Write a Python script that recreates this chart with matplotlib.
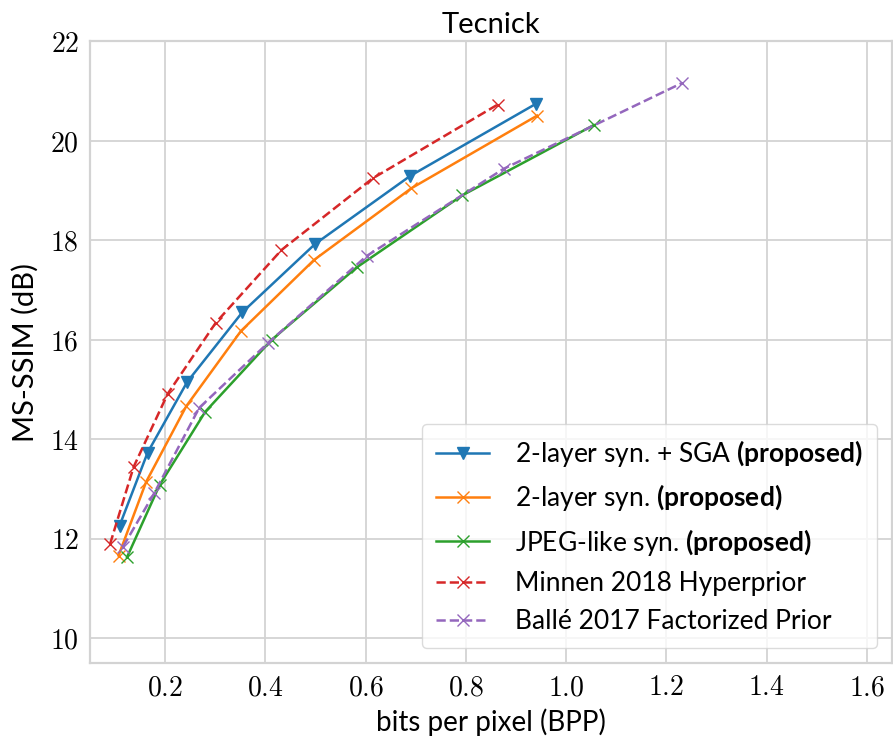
#Rate-distortion curves (MS-SSIM) on Tecnick
import matplotlib.pyplot as plt

plt.rcParams['font.family'] = ['Lato', 'DejaVu Sans']
plt.rcParams['mathtext.fontset'] = 'custom'
plt.rcParams['mathtext.rm'] = 'Lato'
plt.rcParams['mathtext.bf'] = 'Lato:bold'

# data
sga_bpp = [0.109, 0.165, 0.244, 0.354, 0.499, 0.689, 0.940]
sga_db = [12.26, 13.73, 15.15, 16.55, 17.92, 19.29, 20.74]

two_bpp = [0.107, 0.162, 0.242, 0.351, 0.497, 0.691, 0.942]
two_db = [11.66, 13.14, 14.66, 16.17, 17.60, 19.04, 20.50]

jpeg_bpp = [0.124, 0.189, 0.280, 0.413, 0.582, 0.793, 1.055]
jpeg_db = [11.63, 13.08, 14.55, 16.00, 17.45, 18.90, 20.31]

minnen_bpp = [0.090, 0.137, 0.205, 0.301, 0.432, 0.614, 0.863]
minnen_db = [11.89, 13.44, 14.91, 16.34, 17.80, 19.24, 20.72]

balle_bpp = [0.116, 0.178, 0.268, 0.406, 0.602, 0.875, 1.232]
balle_db = [11.84, 12.91, 14.63, 15.94, 17.68, 19.43, 21.16]

xticks = [0.2, 0.4, 0.6, 0.8, 1.0, 1.2, 1.4, 1.6]
yticks = [10, 12, 14, 16, 18, 20, 22]

fig = plt.figure(figsize=(8.93, 7.44), dpi=100)
ax = fig.add_axes([90/893, 1-663/744, 802/893, 622/744])

lw = 1.8
ax.plot(sga_bpp, sga_db, color='#1f77b4', marker='v', markersize=8, linewidth=lw,
        label=r'2-layer syn. $+$ SGA $\mathbf{(proposed)}$')
ax.plot(two_bpp, two_db, color='#ff7f0e', marker='x', markersize=8, linewidth=lw,
        label=r'2-layer syn. $\mathbf{(proposed)}$')
ax.plot(jpeg_bpp, jpeg_db, color='#2ca02c', marker='x', markersize=8, linewidth=lw,
        label=r'JPEG-like syn. $\mathbf{(proposed)}$')
ax.plot(minnen_bpp, minnen_db, color='#d62728', marker='x', markersize=8, linewidth=lw,
        linestyle='--', label='Minnen 2018 Hyperprior')
ax.plot(balle_bpp, balle_db, color='#9467bd', marker='x', markersize=8, linewidth=lw,
        linestyle='--', label='Ballé 2017 Factorized Prior')

ax.set_xlim(0.05, 1.65)
ax.set_ylim(9.5, 22)
ax.set_xticks(xticks, labels=[f'${t:.1f}$' for t in xticks])
ax.set_yticks(yticks, labels=[f'${t}$' for t in yticks])
for lab in ax.get_xticklabels() + ax.get_yticklabels():
    lab.set_math_fontfamily('cm')
    lab.set_fontsize(20)
ax.tick_params(length=0, pad=8)

ax.grid(True, color='#d3d3d3', linewidth=1.3)
ax.set_axisbelow(True)
for s in ax.spines.values():
    s.set_color('#d3d3d3')
    s.set_linewidth(1.6)

ax.set_title('Tecnick', fontsize=21, pad=6)
ax.set_xlabel('bits per pixel (BPP)', fontsize=20, labelpad=6)
ax.set_ylabel('MS-SSIM (dB)', fontsize=21, labelpad=8)

leg = ax.legend(loc='lower right', fontsize=19, frameon=True, fancybox=True,
                framealpha=0.8, edgecolor='#d3d3d3', borderpad=0.55,
                labelspacing=0.5, handlelength=2.0, handletextpad=1.0,
                borderaxespad=0.55)

fig.savefig('out.png', dpi=100)
